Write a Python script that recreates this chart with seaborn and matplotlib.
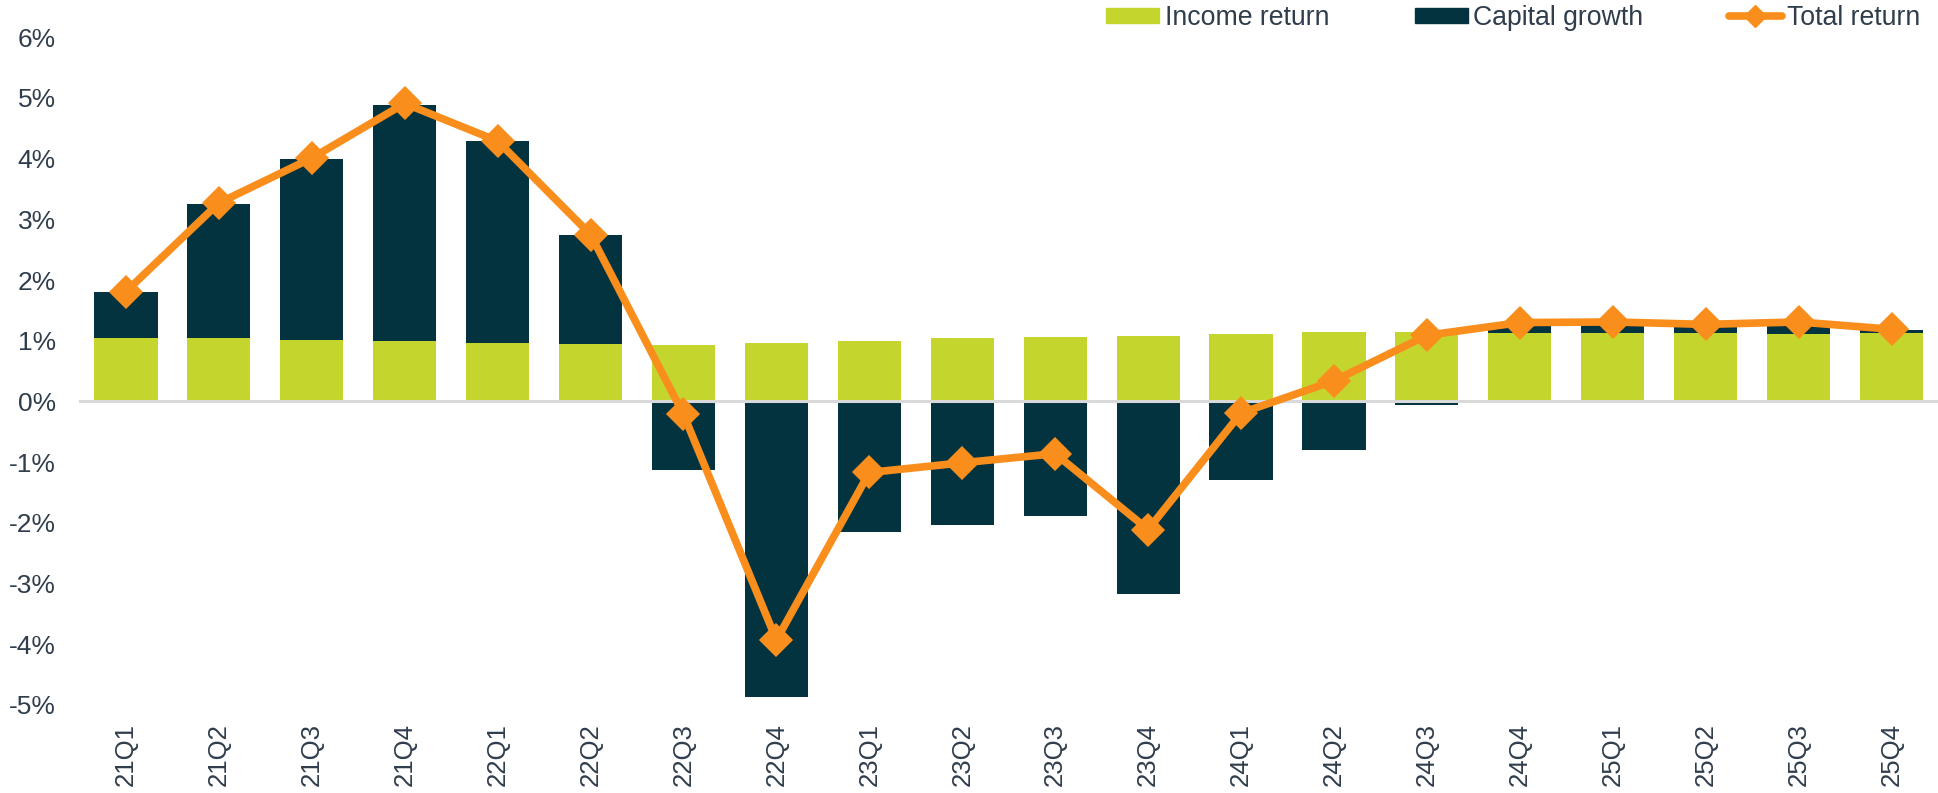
import numpy as np
import pandas as pd
import seaborn as sns
import matplotlib.pyplot as plt
from matplotlib.patches import Patch
from matplotlib.lines import Line2D

# Quarterly returns (%)
quarters = ["21Q1", "21Q2", "21Q3", "21Q4", "22Q1", "22Q2", "22Q3", "22Q4",
            "23Q1", "23Q2", "23Q3", "23Q4", "24Q1", "24Q2", "24Q3", "24Q4",
            "25Q1", "25Q2", "25Q3", "25Q4"]
income_return = [1.04, 1.04, 1.02, 0.99, 0.97, 0.95, 0.93, 0.96,
                 1.00, 1.04, 1.06, 1.08, 1.11, 1.14, 1.14, 1.12,
                 1.12, 1.13, 1.11, 1.12]
capital_growth = [0.76, 2.22, 2.98, 3.90, 3.32, 1.80, -1.13, -4.87,
                  -2.15, -2.03, -1.89, -3.17, -1.30, -0.80, -0.06, 0.17,
                  0.19, 0.13, 0.20, 0.06]
total_return = [1.81, 3.27, 4.01, 4.91, 4.29, 2.75, -0.21, -3.93,
                -1.17, -1.01, -0.86, -2.11, -0.19, 0.34, 1.09, 1.30,
                1.31, 1.27, 1.31, 1.19]
y_ticks = [-5, -4, -3, -2, -1, 0, 1, 2, 3, 4, 5, 6]

c_income = "#c4d62e"
c_capital = "#02333f"
c_total = "#f98e1d"
c_text = "#2f3d4c"

df = pd.DataFrame({"quarter": quarters, "income": income_return,
                   "capital": capital_growth, "total": total_return})
# dark bar reaches the top of the stack when growth is positive
df["capital_top"] = np.where(df["capital"] > 0, df["income"] + df["capital"], df["capital"])

sns.set_theme(style="white")
plt.rcParams["font.family"] = ["Liberation Sans", "DejaVu Sans"]

fig = plt.figure(figsize=(19.38, 7.93), dpi=100)
ax = fig.add_axes([0.041, 0.111, 0.959, 0.842])

sns.barplot(data=df, x="quarter", y="capital_top", order=quarters, color=c_capital,
            width=0.68, saturation=1, ax=ax, linewidth=0)
sns.barplot(data=df, x="quarter", y="income", order=quarters, color=c_income,
            width=0.68, saturation=1, ax=ax, linewidth=0)
ax.axhline(0, color="#d9d9d9", lw=2.2, zorder=3)
sns.pointplot(data=df, x="quarter", y="total", order=quarters, color=c_total,
              markers="D", markersize=13, linewidth=5.5, errorbar=None, ax=ax)
for ln in ax.lines[1:]:
    ln.set_zorder(5)

ax.set_xlim(-0.5, len(quarters) - 0.5)
ax.set_ylim(-5, 6)
ax.set_yticks(y_ticks)
ax.set_yticklabels([f"{t}%" for t in y_ticks])
ax.set_xlabel("")
ax.set_ylabel("")
ax.tick_params(axis="y", length=0, pad=17, labelsize=19, labelcolor=c_text)
ax.tick_params(axis="x", length=0, pad=13, labelsize=18.5, labelcolor=c_text, labelrotation=90)
sns.despine(ax=ax, left=True, bottom=True)

handles = [
    Patch(color=c_income, label="Income return"),
    Patch(color=c_capital, label="Capital growth"),
    Line2D([0], [0], color=c_total, lw=5.5, marker="D", markersize=11,
           solid_capstyle="round", label="Total return"),
]
fig.legend(handles=handles, loc="upper right", bbox_to_anchor=(0.991, 0.994), ncol=3,
           frameon=False, fontsize=19.2, labelcolor=c_text, handlelength=2.0,
           handleheight=0.52, handletextpad=0.2, columnspacing=3.2,
           borderpad=0, borderaxespad=0)

fig.savefig("out.png", dpi=100)
